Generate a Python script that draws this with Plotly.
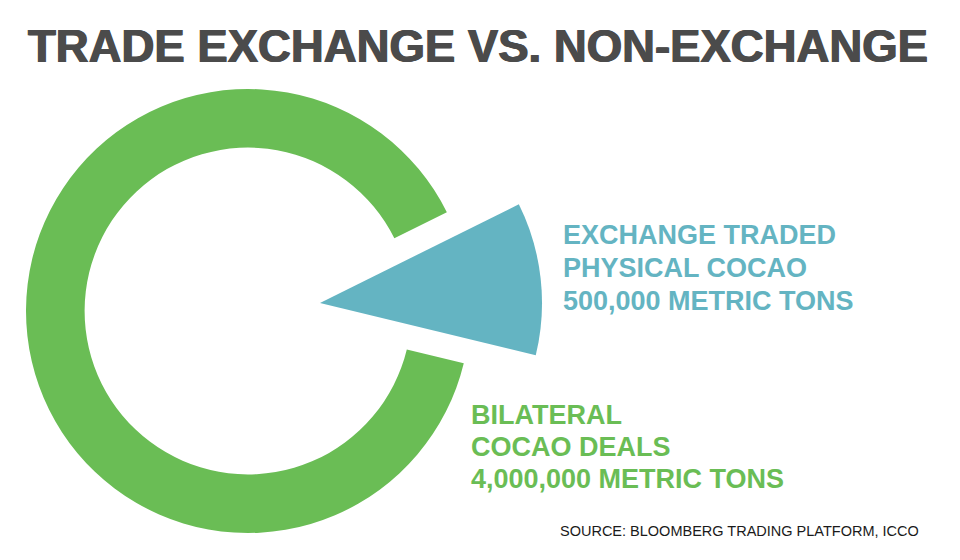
import plotly.graph_objects as go

# ---- data ----
categories = ["Exchange traded physical cocao", "Bilateral cocao deals"]
values = [500000, 4000000]  # metric tons
title_text = "TRADE EXCHANGE VS. NON-EXCHANGE"
exchange_label = ["EXCHANGE TRADED", "PHYSICAL COCAO", "500,000 METRIC TONS"]
bilateral_label = ["BILATERAL", "COCAO DEALS", "4,000,000 METRIC TONS"]
source_text = "SOURCE: BLOOMBERG TRADING PLATFORM, ICCO"

# ---- style / layout ----
W, H = 960, 560
GREEN = "#6abd55"
BLUE = "#64b4c2"
TITLE_COL = "#4b4b4b"
CLEAR = "rgba(0,0,0,0)"
R = 222                    # pie radius in px
RING_C = (248, 311)        # ring centre (px, from top-left)
WEDGE_C = (320, 303)       # exploded wedge tip (px)
ROTATION = 63.6


def dom(c, r):
    cx, cy = c
    return dict(x=[(cx - r) / W, (cx + r) / W],
                y=[(H - cy - r) / H, (H - cy + r) / H])


fig = go.Figure()
# Green ring (non-exchange) with a clear gap where the exchange slice sits
fig.add_trace(go.Pie(
    labels=categories, values=values, hole=0.736, sort=False,
    direction="clockwise", rotation=ROTATION,
    marker=dict(colors=[CLEAR, GREEN], line=dict(width=0)),
    textinfo="none", domain=dom(RING_C, R), showlegend=False,
))
# Blue full wedge (exchange traded), pulled out of the ring
fig.add_trace(go.Pie(
    labels=categories, values=values, hole=0, sort=False,
    direction="clockwise", rotation=ROTATION,
    marker=dict(colors=[BLUE, CLEAR], line=dict(width=0)),
    textinfo="none", domain=dom(WEDGE_C, R), showlegend=False,
))


def py(y):
    return (H - y) / H


ann = []
ann.append(dict(text=title_text, x=477.5 / W, y=py(46.5), xref="paper", yref="paper",
                xanchor="center", yanchor="middle", showarrow=False,
                font=dict(family="Liberation Sans", size=45.5, color=TITLE_COL, weight="bold",
                          shadow="0.7px 0 0 #4b4b4b, -0.7px 0 0 #4b4b4b")))
for line, yc in zip(exchange_label, [235.5, 268, 300.5]):
    ann.append(dict(text=line, x=561 / W, y=py(yc), xref="paper", yref="paper",
                    xanchor="left", yanchor="middle", showarrow=False,
                    font=dict(family="Liberation Sans", size=27, color=BLUE, weight="bold")))
for line, yc in zip(bilateral_label, [415.5, 447.5, 478.5]):
    ann.append(dict(text=line, x=469 / W, y=py(yc), xref="paper", yref="paper",
                    xanchor="left", yanchor="middle", showarrow=False,
                    font=dict(family="Liberation Sans", size=27, color=GREEN, weight="bold")))
ann.append(dict(text=source_text, x=558 / W, y=py(530.5), xref="paper", yref="paper",
                xanchor="left", yanchor="middle", showarrow=False,
                font=dict(family="Liberation Sans", size=14.5, color="#1a1a1a")))

fig.update_layout(
    width=W, height=H, margin=dict(l=0, r=0, t=0, b=0),
    paper_bgcolor="white", plot_bgcolor="white",
    annotations=ann, showlegend=False,
)

fig.write_html("out.html", config={"displayModeBar": False},
               post_script="document.body.style.margin='0';")
